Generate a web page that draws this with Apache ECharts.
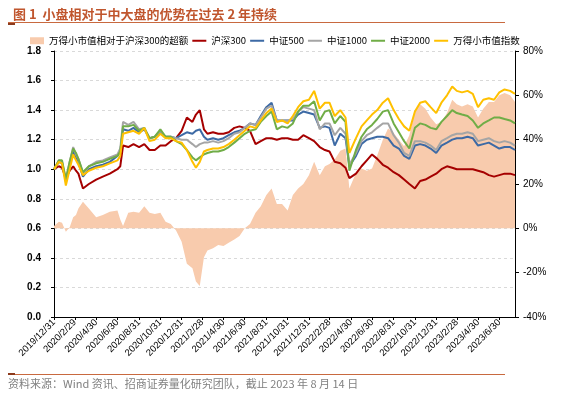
<!DOCTYPE html>
<html>
<head>
<meta charset="utf-8">
<script src="https://cdn.jsdelivr.net/npm/echarts@6/dist/echarts.min.js"></script>
<style>
  html, body { margin: 0; padding: 0; background: #fff; }
  #chart { width: 566px; height: 399px; }
</style>
</head>
<body>
<div id="chart"></div>
<script>
// sample dates
var dates = [
  '2019/12/31','2020/1/14','2020/1/23','2020/2/3','2020/2/14','2020/2/24','2020/3/3','2020/3/10','2020/3/23','2020/4/9',
  '2020/4/30','2020/5/19','2020/6/8','2020/6/30','2020/7/8','2020/7/16','2020/7/31','2020/8/15','2020/8/31','2020/9/15',
  '2020/9/30','2020/10/15','2020/10/31','2020/11/15','2020/11/30','2020/12/15','2020/12/31',
  '2021/1/15','2021/1/31','2021/2/10','2021/2/21','2021/3/5','2021/3/15','2021/3/31','2021/4/15','2021/4/30','2021/5/15',
  '2021/5/31','2021/6/15','2021/6/30','2021/7/15','2021/7/31','2021/8/15','2021/8/31','2021/9/15','2021/9/30','2021/10/15',
  '2021/10/31','2021/11/15','2021/11/30','2021/12/15','2021/12/31',
  '2022/1/15','2022/1/31','2022/2/15','2022/2/28','2022/3/15','2022/3/31','2022/4/15','2022/4/26','2022/5/15','2022/5/31',
  '2022/6/15','2022/6/30','2022/7/15','2022/7/31','2022/8/15','2022/8/31','2022/9/15','2022/9/30','2022/10/15','2022/10/31',
  '2022/11/15','2022/11/30','2022/12/15','2022/12/31',
  '2023/1/15','2023/1/31','2023/2/15','2023/2/28','2023/3/15','2023/3/31','2023/4/15','2023/4/30','2023/5/15','2023/5/31',
  '2023/6/15','2023/6/30','2023/7/15','2023/7/31','2023/8/14'
];

var hs300 = [
  1.00,1.02,1.01,0.94,0.99,1.02,0.99,0.97,0.87,0.90,0.93,0.95,0.97,1.00,1.02,1.16,1.15,1.17,1.15,1.17,1.13,1.13,1.16,1.16,1.19,1.21,1.26,
  1.35,1.32,1.37,1.40,1.27,1.24,1.25,1.24,1.24,1.25,1.28,1.29,1.28,1.26,1.17,1.19,1.21,1.21,1.20,1.21,1.21,1.20,1.20,1.23,1.21,
  1.19,1.15,1.13,1.12,1.05,1.04,1.01,0.94,0.97,1.02,1.06,1.10,1.07,1.03,1.01,0.98,0.96,0.93,0.90,0.87,0.92,0.93,0.95,0.97,
  1.00,1.02,1.01,1.00,1.00,1.00,1.00,0.99,0.98,0.96,0.95,0.96,0.97,0.97,0.96
];
var zz500 = [
  1.00,1.05,1.04,0.92,1.03,1.12,1.08,1.05,0.95,1.00,1.02,1.03,1.05,1.09,1.12,1.27,1.26,1.28,1.25,1.27,1.21,1.22,1.25,1.22,1.22,1.21,1.23,
  1.25,1.24,1.26,1.27,1.22,1.20,1.21,1.20,1.21,1.23,1.25,1.26,1.28,1.31,1.30,1.36,1.42,1.45,1.33,1.33,1.33,1.33,1.37,1.39,1.38,
  1.37,1.28,1.29,1.28,1.16,1.24,1.21,1.02,1.09,1.17,1.20,1.21,1.22,1.22,1.21,1.16,1.14,1.09,1.07,1.16,1.17,1.16,1.14,1.11,
  1.16,1.18,1.20,1.21,1.21,1.22,1.21,1.16,1.17,1.18,1.16,1.14,1.15,1.15,1.13
];
var zz1000 = [
  1.00,1.06,1.05,0.93,1.05,1.15,1.10,1.07,0.97,1.02,1.05,1.06,1.08,1.10,1.14,1.32,1.30,1.32,1.27,1.28,1.21,1.22,1.26,1.22,1.22,1.21,1.20,
  1.20,1.17,1.15,1.17,1.18,1.18,1.19,1.18,1.19,1.21,1.24,1.25,1.28,1.31,1.30,1.35,1.41,1.43,1.33,1.33,1.33,1.34,1.39,1.42,1.41,
  1.40,1.27,1.31,1.31,1.23,1.28,1.24,1.03,1.11,1.19,1.23,1.25,1.28,1.31,1.31,1.23,1.18,1.11,1.09,1.19,1.19,1.18,1.16,1.13,
  1.19,1.21,1.23,1.24,1.24,1.25,1.24,1.19,1.20,1.21,1.19,1.18,1.19,1.18,1.16
];
var zz2000 = [
  1.00,1.06,1.06,0.93,1.05,1.14,1.11,1.07,0.98,1.02,1.04,1.05,1.07,1.09,1.12,1.29,1.29,1.30,1.26,1.28,1.21,1.22,1.27,1.22,1.22,1.19,1.17,
  1.13,1.08,1.06,1.08,1.10,1.11,1.12,1.12,1.13,1.15,1.18,1.21,1.24,1.26,1.27,1.32,1.36,1.39,1.27,1.29,1.28,1.31,1.39,1.43,1.43,
  1.46,1.33,1.39,1.40,1.31,1.36,1.32,0.99,1.13,1.22,1.27,1.30,1.34,1.39,1.40,1.31,1.25,1.19,1.14,1.28,1.31,1.30,1.28,1.27,
  1.32,1.36,1.40,1.38,1.37,1.36,1.33,1.28,1.31,1.33,1.35,1.35,1.34,1.33,1.31
];
var smallCap = [
  1.00,1.05,1.04,0.89,1.00,1.10,1.06,1.03,0.96,0.99,1.01,1.02,1.04,1.06,1.09,1.24,1.25,1.26,1.24,1.28,1.19,1.20,1.24,1.21,1.21,1.19,1.18,
  1.13,1.05,1.01,1.05,1.12,1.13,1.14,1.14,1.15,1.17,1.20,1.23,1.26,1.29,1.28,1.33,1.38,1.41,1.32,1.33,1.31,1.36,1.42,1.46,1.47,
  1.53,1.41,1.45,1.45,1.36,1.40,1.35,1.11,1.21,1.29,1.33,1.37,1.40,1.45,1.48,1.40,1.34,1.29,1.26,1.39,1.45,1.46,1.42,1.38,
  1.45,1.50,1.56,1.53,1.52,1.53,1.51,1.42,1.47,1.48,1.47,1.52,1.54,1.53,1.51
];
// excess return vs CSI300, %
var excess = [
  1,3,2.5,-1.5,0.5,5,6,9,12,9,5,6,7.5,8,4,1,7,7.5,7,10,7,6.5,7,3,2,-1,-6,
  -16,-18,-24,-26,-13,-10,-9,-7.5,-8,-6.5,-5,-3.5,0,2,7,10,15,18,11,11,8,15,18,20,24,
  30,24,28,29,31,35,36,18,25,27,26,27,33,40,45,43,40,37,42,53,56,54,50,47,
  48,52,58,56,55,56,55,50,54,57,57,60,61,60,57
];

var tickLabels = [
  '2019/12/31','2020/2/29','2020/4/30','2020/6/30','2020/8/31','2020/10/31','2020/12/31',
  '2021/2/28','2021/4/30','2021/6/30','2021/8/31','2021/10/31','2021/12/31',
  '2022/2/28','2022/4/30','2022/6/30','2022/8/31','2022/10/31','2022/12/31',
  '2023/2/28','2023/4/30','2023/6/30'
];

// daily calendar axis
var allDays = [];
var dayIndex = {};
(function () {
  var t = Date.UTC(2019, 11, 31), end = Date.UTC(2023, 7, 14);
  while (t <= end) {
    var d = new Date(t);
    var s = d.getUTCFullYear() + '/' + (d.getUTCMonth() + 1) + '/' + d.getUTCDate();
    dayIndex[s] = allDays.length;
    allDays.push(s);
    t += 86400000;
  }
})();
var tickSet = {};
tickLabels.forEach(function (s) { tickSet[s] = true; });
function isTick(idx, val) { return !!tickSet[val]; }

function pairs(arr) {
  return dates.map(function (d, i) { return [dayIndex[d], arr[i]]; });
}

var FONT = '"Noto Sans CJK SC", "Noto Sans", sans-serif';
var hideDot = { opacity: 0 };

var chart = echarts.init(document.getElementById('chart'));
var option = {
  animation: false,
  textStyle: { fontFamily: FONT },
  title: {
    text: '图 1  小盘相对于中大盘的优势在过去 2 年持续',
    left: 8, top: 3,
    textStyle: { fontSize: 13, fontWeight: 'bold', color: '#c0562e', fontFamily: FONT }
  },
  legend: {
    top: 31, left: 25,
    itemWidth: 14, itemHeight: 7, itemGap: 3,
    textStyle: { fontSize: 9.5, color: '#000', fontFamily: FONT },
    data: [
      { name: '万得小市值相对于沪深300的超额', icon: 'rect' },
      { name: '沪深300', itemStyle: hideDot },
      { name: '中证500', itemStyle: hideDot },
      { name: '中证1000', itemStyle: hideDot },
      { name: '中证2000', itemStyle: hideDot },
      { name: '万得小市值指数', itemStyle: hideDot }
    ]
  },
  grid: { left: 54, right: 51, top: 51, bottom: 82 },
  xAxis: {
    type: 'category',
    data: allDays,
    boundaryGap: false,
    axisLine: { lineStyle: { color: '#000', width: 1 } },
    axisTick: { interval: isTick, length: 3, lineStyle: { color: '#000' } },
    axisLabel: { interval: isTick, rotate: 45, fontSize: 9.5, color: '#000', margin: 4, fontFamily: 'Liberation Sans' }
  },
  yAxis: [
    {
      type: 'value', min: 0, max: 1.8, interval: 0.2,
      axisLine: { show: true, lineStyle: { color: '#000' } },
      axisTick: { show: true, length: 3, lineStyle: { color: '#000' } },
      axisLabel: { fontSize: 10, color: '#000', fontWeight: 'bold', margin: 13, fontFamily: 'Liberation Sans',
        formatter: function (v) { return v.toFixed(1); } },
      splitLine: { lineStyle: { color: '#d9d9d9', type: [3, 3] } }
    },
    {
      type: 'value', min: -40, max: 80, interval: 20, position: 'right',
      axisLine: { show: true, lineStyle: { color: '#000' } },
      axisTick: { show: true, length: 4, lineStyle: { color: '#000' } },
      axisLabel: { fontSize: 10, color: '#000', margin: 8, fontFamily: 'Liberation Sans', formatter: '{value}%' },
      splitLine: { show: false }
    }
  ],
  series: [
    {
      name: '万得小市值相对于沪深300的超额', type: 'line', yAxisIndex: 1,
      data: pairs(excess), symbol: 'none',
      itemStyle: { color: '#f8cbad' },
      lineStyle: { width: 0 },
      areaStyle: { color: '#f8cbad', opacity: 1 },
      z: 1
    },
    { name: '沪深300', type: 'line', data: pairs(hs300), symbol: 'none', itemStyle: { color: '#a50000' }, lineStyle: { width: 2 }, z: 2 },
    { name: '中证500', type: 'line', data: pairs(zz500), symbol: 'none', itemStyle: { color: '#3d6aa5' }, lineStyle: { width: 2 }, z: 3 },
    { name: '中证1000', type: 'line', data: pairs(zz1000), symbol: 'none', itemStyle: { color: '#a5a5a5' }, lineStyle: { width: 2 }, z: 4 },
    { name: '中证2000', type: 'line', data: pairs(zz2000), symbol: 'none', itemStyle: { color: '#70ad47' }, lineStyle: { width: 2 }, z: 5 },
    { name: '万得小市值指数', type: 'line', data: pairs(smallCap), symbol: 'none', itemStyle: { color: '#ffc000' }, lineStyle: { width: 2 }, z: 6 }
  ],
  graphic: [
    { type: 'rect', shape: { x: 8, y: 22, width: 497, height: 1 }, style: { fill: '#c8693f' } },
    { type: 'rect', shape: { x: 8, y: 23, width: 7, height: 2 }, style: { fill: '#8c3a1c' } },
    { type: 'rect', shape: { x: 8, y: 374, width: 497, height: 1 }, style: { fill: '#c8693f' } },
    { type: 'rect', shape: { x: 8, y: 373, width: 7, height: 2 }, style: { fill: '#8c3a1c' } },
    {
      type: 'text', left: 8, top: 378,
      style: { text: '资料来源：Wind 资讯、招商证券量化研究团队，截止 2023 年 8 月 14 日',
        font: '11px ' + FONT, fill: '#808080' }
    }
  ]
};
chart.setOption(option);
</script>
</body>
</html>
